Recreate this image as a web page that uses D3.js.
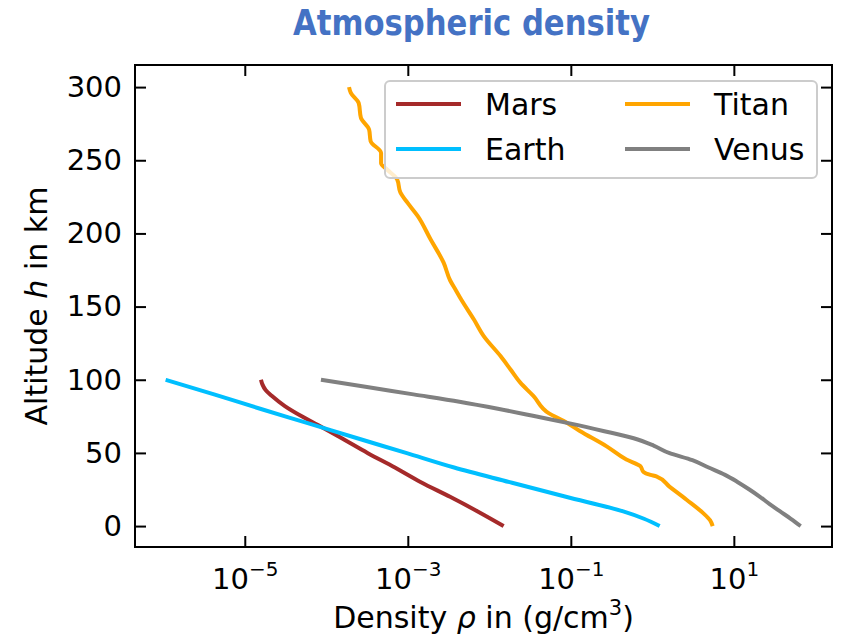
<!DOCTYPE html>
<html lang="en">
<head>
    <meta charset="UTF-8">
    <title>Atmospheric density</title>
    <script src="https://d3js.org/d3.v7.min.js"></script>
    <style>
        body { margin: 0; background: white; }
        text { font-family: "DejaVu Sans", sans-serif; fill: black; }
    </style>
</head>
<body>
    <svg width="843" height="637"></svg>

    <script>
        // altitude (km) and density
        const marsAlt = [0, 10, 20, 30, 40, 50, 60, 69, 75, 82, 89, 93, 97, 100];
        const marsRho = [1.5e-2, 7.2e-3, 3.3e-3, 1.45e-3, 6.95e-4, 3.2e-4, 1.55e-4, 7.9e-5, 5.0e-5, 3.1e-5, 2.14e-5, 1.80e-5, 1.64e-5, 1.58e-5];

        const earthAlt = [0, 5, 10, 20, 30, 40, 50, 60, 70, 80, 90, 100];
        const earthRho = [1.23, 0.79, 0.44, 0.087, 0.0178, 3.7e-3, 9.5e-4, 2.4e-4, 6.2e-5, 1.58e-5, 4.2e-6, 1.07e-6];

        const titanAlt = [0, 4, 9, 18, 27, 34, 35, 37, 41, 45.5, 54.5, 65, 72, 77, 89, 98, 107, 116, 130, 141, 155, 161, 168, 180, 196, 212, 221, 228, 237, 243.5, 248, 255, 263, 271, 279, 289, 296, 300];
        const titanRho = [5.5, 5.1, 4.17, 2.63, 1.62, 1.12, 0.95, 0.78, 0.71, 0.48, 0.275, 0.129, 0.081, 0.054, 0.0347, 0.024, 0.0182, 0.0138, 8.5e-3, 6.5e-3, 4.5e-3, 3.9e-3, 3.3e-3, 2.75e-3, 1.9e-3, 1.32e-3, 9.9e-4, 8.1e-4, 7.4e-4, 5.6e-4, 4.7e-4, 4.7e-4, 3.5e-4, 3.35e-4, 2.66e-4, 2.5e-4, 2.0e-4, 1.9e-4];

        const venusAlt = [0, 5, 10, 15, 20, 25, 30, 35, 40, 45, 50, 55, 60, 65, 70, 75, 80, 85, 90, 95, 100];
        const venusRho = [66, 50, 37, 27.5, 20.9, 15.5, 11.2, 7.8, 4.9, 3.1, 1.6, 1.035, 0.59, 0.25, 0.100, 0.0367, 0.0132, 4.3e-3, 1.17e-3, 3.16e-4, 8.6e-5];

        const xTicks = [1e-5, 1e-3, 1e-1, 1e1];
        const yTicks = [0, 50, 100, 150, 200, 250, 300];

        const width = 843, height = 637;
        const plot = { left: 135, right: 832, top: 65, bottom: 547 };

        const svg = d3.select("svg");

        const xScale = d3.scaleLog()
                         .domain([4.5e-7, 1.6e2])
                         .range([plot.left, plot.right]);

        const yScale = d3.scaleLinear()
                         .domain([-14.3, 315.1])
                         .range([plot.bottom, plot.top]);

        const series = [
            { name: "Mars",  color: "#a52a2a", alt: marsAlt,  rho: marsRho },
            { name: "Earth", color: "#00bfff", alt: earthAlt, rho: earthRho },
            { name: "Titan", color: "#ffa500", alt: titanAlt, rho: titanRho },
            { name: "Venus", color: "#808080", alt: venusAlt, rho: venusRho }
        ];

        // clip lines to the axes box
        svg.append("clipPath").attr("id", "clip")
           .append("rect")
           .attr("x", plot.left).attr("y", plot.top)
           .attr("width", plot.right - plot.left)
           .attr("height", plot.bottom - plot.top);

        const line = d3.line()
                       .x(d => xScale(d[1]))
                       .y(d => yScale(d[0]))
                       .curve(d3.curveMonotoneY);

        series.forEach(s => {
            svg.append("path")
               .datum(s.alt.map((a, i) => [a, s.rho[i]]))
               .attr("clip-path", "url(#clip)")
               .attr("fill", "none")
               .attr("stroke", s.color)
               .attr("stroke-width", 4)
               .attr("stroke-linejoin", "round")
               .attr("d", line);
        });

        // Axes, ticks pointing inward
        const tickLen = 11;
        const fmtExp = d => {
            const e = Math.round(Math.log10(d));
            return (e < 0 ? "\u2212" : "") + Math.abs(e);
        };

        const xAxis = svg.append("g")
           .attr("transform", `translate(0,${plot.bottom})`)
           .call(d3.axisBottom(xScale).tickValues(xTicks).tickSize(-tickLen).tickPadding(14).tickFormat(() => ""));

        xAxis.selectAll(".tick text").each(function(d) {
            const t = d3.select(this).attr("font-size", 29).attr("dy", "0.95em");
            t.append("tspan").text("10");
            t.append("tspan").attr("font-size", 20).attr("dy", -13).text(fmtExp(d));
        });

        svg.append("g")
           .attr("transform", `translate(0,${plot.top})`)
           .call(d3.axisTop(xScale).tickValues(xTicks).tickSize(-tickLen).tickFormat(() => ""));

        svg.append("g")
           .attr("transform", `translate(${plot.left},0)`)
           .call(d3.axisLeft(yScale).tickValues(yTicks).tickSize(-tickLen).tickPadding(13))
           .selectAll("text")
           .attr("font-size", 29);

        svg.append("g")
           .attr("transform", `translate(${plot.right},0)`)
           .call(d3.axisRight(yScale).tickValues(yTicks).tickSize(-tickLen).tickFormat(() => ""));

        svg.selectAll(".domain").remove();
        svg.selectAll(".tick line")
           .attr("stroke", "black")
           .attr("stroke-width", 2);
        svg.selectAll(".tick text").attr("font-family", "DejaVu Sans");

        // Frame
        svg.append("rect")
           .attr("x", plot.left).attr("y", plot.top)
           .attr("width", plot.right - plot.left)
           .attr("height", plot.bottom - plot.top)
           .attr("fill", "none")
           .attr("stroke", "black")
           .attr("stroke-width", 2);

        // Legend
        const legend = svg.append("g").attr("transform", "translate(385,81)");

        legend.append("rect")
              .attr("width", 432)
              .attr("height", 97)
              .attr("rx", 5)
              .attr("fill", "white")
              .attr("fill-opacity", 0.8)
              .attr("stroke", "#cccccc")
              .attr("stroke-width", 2);

        series.forEach((s, i) => {
            const col = Math.floor(i / 2), row = i % 2;
            const gx = 11 + col * 229, gy = 23 + row * 45;
            legend.append("line")
                  .attr("x1", gx).attr("x2", gx + 65)
                  .attr("y1", gy).attr("y2", gy)
                  .attr("stroke", s.color)
                  .attr("stroke-width", 4);
            legend.append("text")
                  .attr("x", gx + 89)
                  .attr("y", gy + 11)
                  .attr("font-size", 30)
                  .text(s.name);
        });

        // Axis labels
        const xLabel = svg.append("text")
           .attr("x", (plot.left + plot.right) / 2)
           .attr("y", 628)
           .attr("text-anchor", "middle")
           .attr("font-size", 30);
        xLabel.append("tspan").text("Density ");
        xLabel.append("tspan").attr("font-style", "italic").text("\u03c1");
        xLabel.append("tspan").text(" in (g/cm");
        xLabel.append("tspan").attr("font-size", 21).attr("dy", -13).text("3");
        xLabel.append("tspan").attr("dy", 13).text(")");

        const yLabel = svg.append("text")
           .attr("transform", "rotate(-90)")
           .attr("x", -(plot.top + plot.bottom) / 2)
           .attr("y", 47)
           .attr("text-anchor", "middle")
           .attr("font-size", 30);
        yLabel.append("tspan").text("Altitude ");
        yLabel.append("tspan").attr("font-style", "italic").text("h");
        yLabel.append("tspan").text(" in km");

        // Title
        svg.append("text")
           .attr("x", 471.5)
           .attr("y", 35)
           .attr("text-anchor", "middle")
           .attr("font-family", "Lato, 'Open Sans', sans-serif")
           .attr("font-weight", "bold")
           .attr("font-size", 35)
           .attr("textLength", 357)
           .attr("lengthAdjust", "spacingAndGlyphs")
           .style("fill", "#4472c4")
           .text("Atmospheric density");
    </script>
</body>
</html>
